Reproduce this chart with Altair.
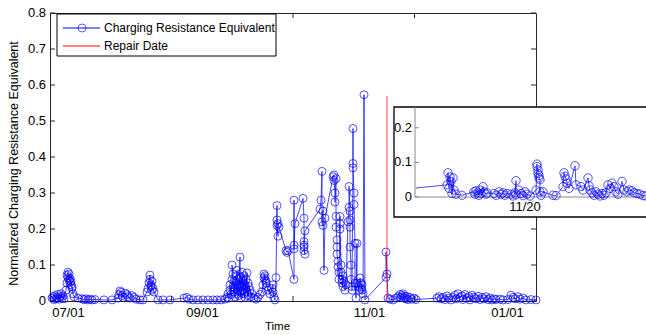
import altair as alt
import pandas as pd

# ---------------- data ----------------
SERIES = ["Charging Resistance Equivalent", "Repair Date"]
SERIES_COLORS = ["#0000ff", "#ff0000"]

X_DOMAIN = [50, 536]                      # sample-position axis
X_LABEL_POS = [68, 202, 369, 507]
X_LABELS = ["07/01", "09/01", "11/01", "01/01"]
X_TICKS = [171.5, 293, 414.5]
Y_TICKS = [0, 0.1, 0.2, 0.3, 0.4, 0.5, 0.6, 0.7, 0.8]
Y_LABELS = ["0", "0.1", "0.2", "0.3", "0.4", "0.5", "0.6", "0.7", "0.8"]

REPAIR_T = [387]
REPAIR_TOP = [0.57]

SEG_JULY = [(52, 0.008), (53, 0.012), (54, 0.004), (55, 0.015), (56, 0.006), (57, 0.010), (58, 0.018),
            (59, 0.005), (60, 0.012), (61, 0.020), (62, 0.008), (63, 0.014), (64, 0.006),
            (66, 0.030), (67, 0.050), (67, 0.072), (68, 0.080), (68, 0.065), (69, 0.058), (69, 0.075),
            (70, 0.052), (70, 0.062), (71, 0.045), (71, 0.055), (72, 0.035), (72, 0.040), (73, 0.020),
            (74, 0.012), (78, 0.008), (82, 0.006), (84, 0.004), (86, 0.006), (88, 0.003), (90, 0.005),
            (92, 0.003), (95, 0.004), (104, 0.003), (112, 0.003)]
SEG_AUG = [(118, 0.008), (119, 0.018), (120, 0.028), (121, 0.024), (122, 0.015), (123, 0.010), (125, 0.022),
           (127, 0.018), (128, 0.012), (130, 0.008), (132, 0.015), (134, 0.010), (136, 0.005), (140, 0.003),
           (143, 0.003), (147, 0.025), (148, 0.035), (149, 0.050), (150, 0.072), (150, 0.060), (151, 0.045),
           (151, 0.040), (152, 0.055), (152, 0.030), (153, 0.035), (154, 0.025), (158, 0.003), (163, 0.003),
           (170, 0.003), (184, 0.008), (187, 0.010), (189, 0.005), (193, 0.003), (198, 0.003), (203, 0.003),
           (208, 0.003), (213, 0.003), (217, 0.003), (221, 0.003), (225, 0.005)]
SEG_SEP = [(227, 0.010), (228, 0.020), (229, 0.008), (230, 0.030), (230, 0.045), (231, 0.018), (232, 0.060),
           (232, 0.100), (233, 0.075), (233, 0.040), (234, 0.025), (234, 0.055), (235, 0.012), (235, 0.035),
           (236, 0.070), (236, 0.050), (237, 0.020), (237, 0.085), (238, 0.030), (238, 0.060), (239, 0.015),
           (239, 0.045), (240, 0.122), (240, 0.025), (241, 0.065), (241, 0.008), (242, 0.040), (242, 0.080),
           (243, 0.030), (243, 0.055), (244, 0.020), (244, 0.070), (245, 0.045), (245, 0.010), (246, 0.060),
           (246, 0.035), (247, 0.078), (247, 0.025), (248, 0.050), (248, 0.015), (249, 0.040), (250, 0.030),
           (251, 0.012), (252, 0.020), (254, 0.008), (256, 0.005), (258, 0.010), (260, 0.018),
           (262, 0.025), (263, 0.045), (264, 0.065), (264, 0.075), (265, 0.060), (265, 0.070), (266, 0.055),
           (266, 0.050), (267, 0.040), (268, 0.030), (270, 0.020), (272, 0.035), (273, 0.045), (273, 0.025),
           (274, 0.010), (275, 0.003)]
SEG_OCT = [(276, 0.065), (277, 0.265), (277, 0.225), (277, 0.210), (278, 0.180), (278, 0.215), (279, 0.205),
           (286, 0.140), (287, 0.135), (288, 0.140),
           (294, 0.060), (294, 0.280), (294, 0.155), (294, 0.145), (295, 0.215),
           (303, 0.285), (304, 0.230), (304, 0.165), (304, 0.150), (304, 0.140), (305, 0.130), (304, 0.155),
           (305, 0.195),
           (320, 0.255), (321, 0.280), (322, 0.360), (322, 0.220), (323, 0.210), (323, 0.250), (324, 0.085),
           (325, 0.230),
           (333, 0.345), (334, 0.350), (334, 0.335), (335, 0.300), (335, 0.275), (336, 0.340), (336, 0.235),
           (336, 0.205), (337, 0.170), (337, 0.150), (337, 0.130), (338, 0.110), (338, 0.095), (339, 0.080),
           (339, 0.060), (340, 0.235), (340, 0.215), (340, 0.200), (341, 0.100), (341, 0.080), (342, 0.060),
           (342, 0.050), (343, 0.040), (343, 0.070), (344, 0.055), (345, 0.030), (346, 0.045),
           (348, 0.220), (349, 0.260), (349, 0.318), (350, 0.250), (350, 0.225), (350, 0.205), (350, 0.150),
           (351, 0.100), (351, 0.060), (352, 0.040), (352, 0.030), (353, 0.382), (353, 0.479), (353, 0.370),
           (354, 0.300), (354, 0.268), (355, 0.160), (355, 0.050), (356, 0.008), (357, 0.160), (357, 0.050),
           (358, 0.040), (359, 0.030), (360, 0.064), (361, 0.050), (361, 0.035), (362, 0.045), (362, 0.030),
           (363, 0.020), (364, 0.573), (365, 0.003)]
SEG_NOV = [(386, 0.066), (386, 0.136), (387, 0.075), (388, 0.008),
           (390, 0.005), (393, 0.003), (396, 0.008), (398, 0.012), (400, 0.018), (401, 0.010), (402, 0.015),
           (403, 0.020), (404, 0.008), (405, 0.014), (406, 0.006), (407, 0.012), (408, 0.004), (410, 0.010),
           (412, 0.005), (414, 0.008), (416, 0.004), (437, 0.008)]
SEG_DEC = [(439, 0.012), (441, 0.006), (443, 0.010), (445, 0.004), (447, 0.014), (449, 0.008), (451, 0.003),
           (453, 0.010), (455, 0.016), (456, 0.006), (458, 0.020), (460, 0.010), (462, 0.014), (463, 0.004),
           (465, 0.018), (467, 0.008), (469, 0.012), (470, 0.003), (472, 0.016), (474, 0.010), (476, 0.006),
           (478, 0.013), (480, 0.004), (482, 0.010), (484, 0.006), (486, 0.012), (488, 0.004), (490, 0.008),
           (492, 0.003), (494, 0.006), (496, 0.004), (500, 0.005), (503, 0.003), (508, 0.004), (511, 0.016),
           (513, 0.010), (515, 0.006), (518, 0.012), (520, 0.005), (523, 0.008), (526, 0.003), (531, 0.004),
           (536, 0.003)]

# inset (zoom after the repair)
INSET_X_DOMAIN = [415, 665]
INSET_Y_DOMAIN = [0, 0.26]
INSET_Y_TICKS = [0, 0.1, 0.2]
INSET_Y_LABELS = ["0", "0.1", "0.2"]
INSET_X_TICKS = [525]
INSET_X_LABELS = ["11/20"]
INSET_LEAD = [(416, 0.026)]
INSET_POINTS = [(447, 0.035), (448, 0.070), (449, 0.025), (450, 0.058), (451, 0.045), (452, 0.010), (453, 0.055),
                (454, 0.020), (456, 0.008), (462, 0.005),
                (474, 0.015), (475, 0.008), (476, 0.018), (478, 0.012), (479, 0.005), (480, 0.020), (481, 0.010),
                (483, 0.030), (484, 0.015), (486, 0.008), (487, 0.012),
                (494, 0.010), (496, 0.005), (499, 0.015), (501, 0.008), (503, 0.012), (505, 0.005), (507, 0.010),
                (511, 0.008), (513, 0.003), (515, 0.012), (516, 0.047), (516, 0.006),
                (519, 0.020), (521, 0.010), (523, 0.004), (525, 0.015), (527, 0.008), (530, 0.003),
                (536, 0.020), (537, 0.095), (537, 0.088), (538, 0.078), (538, 0.068), (539, 0.062), (539, 0.055),
                (540, 0.050), (540, 0.015), (541, 0.005), (543, 0.015), (553, 0.005), (556, 0.004),
                (563, 0.030), (564, 0.070), (565, 0.060), (566, 0.052), (567, 0.040), (569, 0.025),
                (575, 0.090), (576, 0.035), (581, 0.030), (583, 0.020),
                (588, 0.055), (589, 0.032), (590, 0.020), (592, 0.012), (594, 0.005), (596, 0.015), (598, 0.008),
                (600, 0.003), (602, 0.010), (604, 0.005), (606, 0.012),
                (608, 0.035), (610, 0.025), (612, 0.040), (614, 0.030), (616, 0.015), (618, 0.008),
                (622, 0.045), (624, 0.020), (627, 0.015), (629, 0.020), (632, 0.018), (634, 0.012), (637, 0.010),
                (640, 0.008), (643, 0.004), (646, 0.003)]

# ---------------- layout / style ----------------
W, H = 486, 288
FONT = "Liberation Sans"
AX = "#262626"
BLUE, RED = SERIES_COLORS
INSET_GRAY = "#8a8a8a"
INS_L, INS_R = 365, 615           # inset x range (px in plot group)
INS_B, INS_T = 184, 94            # inset y range

main_pts = SEG_JULY + SEG_AUG + SEG_SEP + SEG_OCT + SEG_NOV + SEG_DEC
main_df = pd.DataFrame(main_pts, columns=["t", "v"])
main_df["i"] = range(len(main_df))

label_expr = " : ".join(f"datum.value == {p} ? '{l}'" for p, l in zip(X_LABEL_POS, X_LABELS)) + " : ''"

x_main = alt.X("t:Q", scale=alt.Scale(domain=X_DOMAIN, nice=False, zero=False),
               axis=alt.Axis(values=X_LABEL_POS, labelExpr=label_expr, ticks=False, tickSize=0, grid=False,
                             title="Time", labelFontSize=13, labelPadding=5, labelFont=FONT, labelColor="black",
                             titleFont=FONT, titleFontSize=11.5, titleFontWeight="normal", titleColor="black",
                             titleX=227, titleY=25, titleBaseline="middle", titleAlign="center",
                             domainColor=AX, labelFlush=False, labelOverlap=False))
y_main = alt.Y("v:Q", scale=alt.Scale(domain=[0, 0.8], nice=False),
               axis=alt.Axis(values=Y_TICKS, labels=False, ticks=False, tickSize=0, grid=False,
                             title="Normalized Charging Resistance Equivalent",
                             titleFont=FONT, titleFontSize=12.5, titleFontWeight="normal", titleColor="black",
                             titleAngle=270, titleX=-37, titleY=150, titleBaseline="middle", titleAlign="center",
                             domainColor=AX))

xt_df = pd.DataFrame({"t": X_TICKS})
yt_df = pd.DataFrame({"v": Y_TICKS, "lab": Y_LABELS})

ticks_bottom = alt.Chart(xt_df).mark_rule(color=AX, strokeWidth=1).encode(x="t:Q", y=alt.value(H), y2=alt.value(H - 5))
ticks_top = alt.Chart(xt_df).mark_rule(color=AX, strokeWidth=1).encode(x="t:Q", y=alt.value(0), y2=alt.value(5))
ticks_left = alt.Chart(yt_df).mark_rule(color=AX, strokeWidth=1).encode(y="v:Q", x=alt.value(0), x2=alt.value(5))
ticks_right = alt.Chart(yt_df).mark_rule(color=AX, strokeWidth=1).encode(y="v:Q", x=alt.value(W - 5), x2=alt.value(W))
y_labels = alt.Chart(yt_df).mark_text(align="right", baseline="middle", font=FONT, fontSize=13,
                                      color="black").encode(y="v:Q", x=alt.value(-4), text="lab:N")

line = alt.Chart(main_df).mark_line(color=BLUE, strokeWidth=0.8, opacity=0.9).encode(x=x_main, y=y_main, order="i:Q")
points = alt.Chart(main_df).mark_point(shape="circle", filled=False, size=64, strokeWidth=0.8,
                                       color=BLUE, opacity=0.85).encode(x="t:Q", y="v:Q")

repair_df = pd.DataFrame({"t": REPAIR_T, "v": [0.0], "v2": REPAIR_TOP})
repair = alt.Chart(repair_df).mark_rule(color=RED, strokeWidth=0.9, opacity=0.85).encode(x="t:Q", y="v:Q", y2="v2:Q")

# legend (drawn)
leg_frame = alt.Chart(pd.DataFrame({"k": [0]})).mark_rect(fill="white", stroke="black", strokeWidth=1).encode(
    x=alt.value(7), x2=alt.value(226), y=alt.value(1), y2=alt.value(43))
leg_layers = [leg_frame]
for k, (name, col) in enumerate(zip(SERIES, SERIES_COLORS)):
    ly = 15 + 18 * k
    d = pd.DataFrame({"series": [name]})
    leg_layers.append(alt.Chart(d).mark_rule(color=col, strokeWidth=1).encode(
        x=alt.value(13), x2=alt.value(50), y=alt.value(ly)))
    if k == 0:
        leg_layers.append(alt.Chart(d).mark_point(shape="circle", filled=False, size=64, strokeWidth=0.9,
                                                  color=col).encode(x=alt.value(32), y=alt.value(ly)))
    leg_layers.append(alt.Chart(d).mark_text(align="left", baseline="middle", font=FONT, fontSize=12,
                                             color="black").encode(x=alt.value(54), y=alt.value(ly),
                                                                    text="series:N"))

main = alt.layer(line, ticks_bottom, ticks_top, ticks_left, ticks_right, y_labels, points, repair, *leg_layers)

# ---------------- inset ----------------
xq = alt.X("t:Q", axis=None)
yq = alt.Y("v:Q", axis=None)
x_in = alt.X("t:Q", scale=alt.Scale(domain=INSET_X_DOMAIN, range=[INS_L, INS_R], nice=False, zero=False), axis=None)
y_in = alt.Y("v:Q", scale=alt.Scale(domain=INSET_Y_DOMAIN, range=[INS_B, INS_T], nice=False), axis=None)

in_line_df = pd.DataFrame(INSET_LEAD + INSET_POINTS, columns=["t", "v"])
in_line_df["i"] = range(len(in_line_df))
in_pts_df = pd.DataFrame(INSET_POINTS, columns=["t", "v"])

in_frame = alt.Chart(pd.DataFrame({"k": [0]})).mark_rect(fill="white", stroke="black", strokeWidth=1.3).encode(
    x=alt.value(INS_L - 21), x2=alt.value(INS_R), y=alt.value(INS_T), y2=alt.value(INS_B + 20))
in_yaxis = alt.Chart(pd.DataFrame({"k": [0]})).mark_rule(color=INSET_GRAY, strokeWidth=1).encode(
    x=alt.value(INS_L), y=alt.value(INS_T), y2=alt.value(INS_B))
in_xaxis = alt.Chart(pd.DataFrame({"k": [0]})).mark_rule(color=INSET_GRAY, strokeWidth=1).encode(
    x=alt.value(INS_L), x2=alt.value(INS_R), y=alt.value(INS_B))
iyt = pd.DataFrame({"v": INSET_Y_TICKS, "lab": INSET_Y_LABELS})
ixt = pd.DataFrame({"t": INSET_X_TICKS, "lab": INSET_X_LABELS})
in_line = alt.Chart(in_line_df).mark_line(color=BLUE, strokeWidth=0.8, opacity=0.9).encode(
    x=x_in, y=y_in, order="i:Q")
in_yticks = alt.Chart(iyt).mark_rule(color=INSET_GRAY, strokeWidth=1).encode(
    y=yq, x=alt.value(INS_L), x2=alt.value(INS_L + 4))
in_ylabels = alt.Chart(iyt).mark_text(align="right", baseline="middle", font=FONT, fontSize=13,
                                      color="black").encode(y=yq, x=alt.value(INS_L - 3), text="lab:N")
in_xticks = alt.Chart(ixt).mark_rule(color=INSET_GRAY, strokeWidth=1).encode(
    x=xq, y=alt.value(INS_B), y2=alt.value(INS_B - 4))
in_xlabels = alt.Chart(ixt).mark_text(align="center", baseline="top", font=FONT, fontSize=13,
                                      color="black").encode(x=xq, y=alt.value(INS_B + 4), text="lab:N")
in_points = alt.Chart(in_pts_df).mark_point(shape="circle", filled=False, size=70, strokeWidth=0.8,
                                            color=BLUE, opacity=0.85).encode(x=xq, y=yq)

inset = alt.layer(in_frame, in_line, in_yticks, in_xticks, in_yaxis, in_xaxis, in_points, in_ylabels, in_xlabels)

chart = alt.layer(main, inset).resolve_scale(x="independent", y="independent").properties(
    width=W, height=H,
    padding={"left": 50, "top": 13, "right": 110, "bottom": 34},
    autosize=alt.AutoSizeParams(type="none"),
    background="white",
).configure_view(stroke=AX, strokeWidth=1)

chart.save("out.html", embed_options={"renderer": "svg", "actions": False})
